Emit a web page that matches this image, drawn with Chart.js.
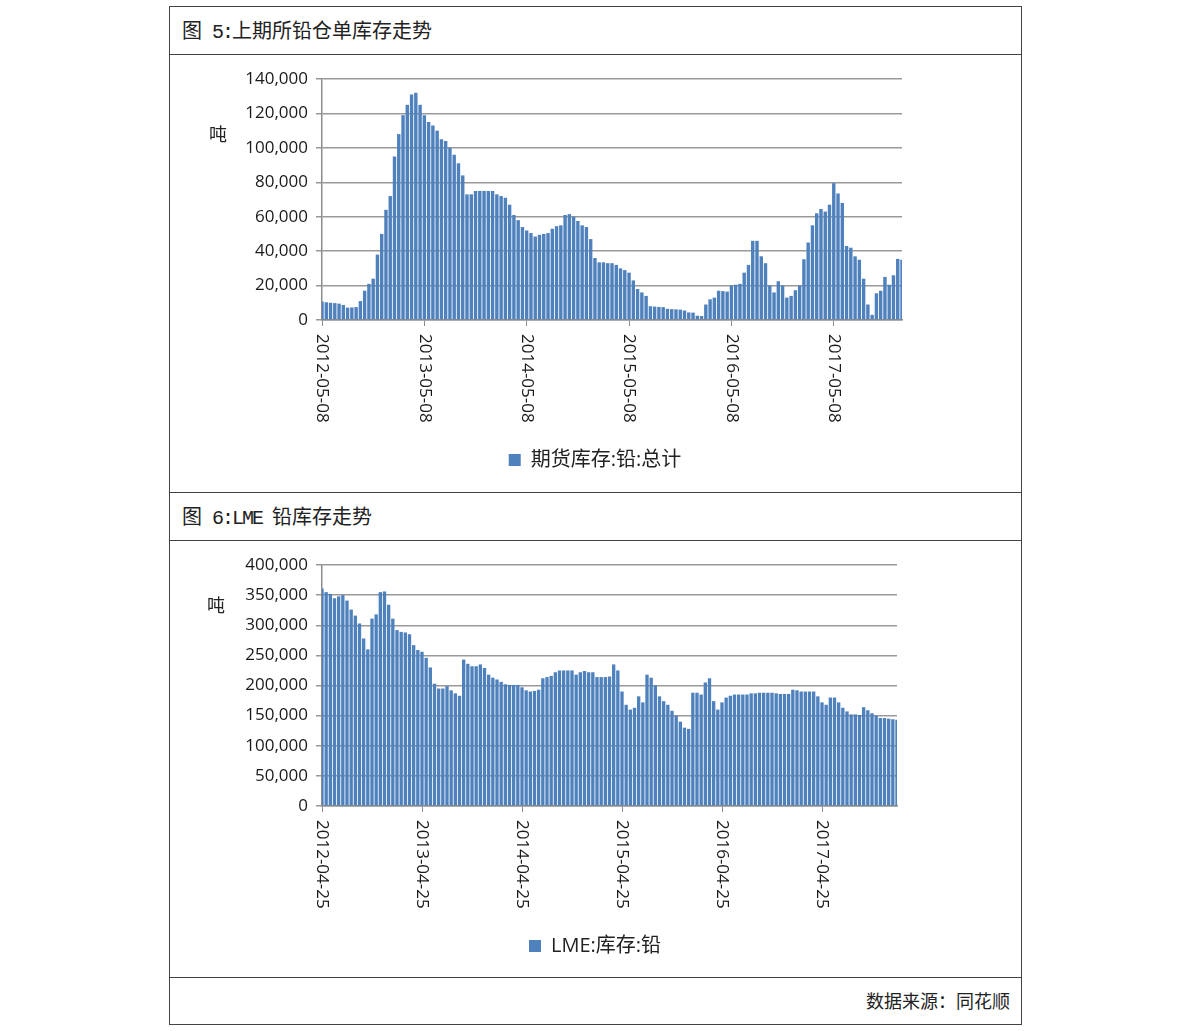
<!DOCTYPE html>
<html lang="zh-CN">
<head>
<meta charset="utf-8">
<title>上期所铅仓单库存走势 / LME 铅库存走势</title>
<script src="https://cdn.jsdelivr.net/npm/chart.js@4.4.1/dist/chart.umd.min.js"></script>
<style>
  html, body { margin: 0; padding: 0; background: #fff; }
  body {
    width: 1191px; height: 1031px; position: relative; overflow: hidden;
    font-family: "Noto Sans CJK SC", sans-serif; color: #222;
  }
  .frame {
    position: absolute; left: 169px; top: 6px; width: 853px; height: 1019px;
    border: 1px solid #444; box-sizing: border-box;
  }
  .rule { position: absolute; left: 169px; width: 853px; height: 1px; background: #444; }
  .title { position: absolute; left: 182px; font-size: 20px; line-height: 24px; white-space: nowrap; }
  .title .lat { font-family: "Liberation Mono", monospace; font-size: 20px; letter-spacing: -2px; white-space: pre; }
  .unit { position: absolute; font-size: 18px; line-height: 22px; color: #222; }
  .source { position: absolute; right: 181px; top: 989px; font-size: 18px; line-height: 22px; }
  .chart-box { position: absolute; left: 170px; width: 850px; }
</style>
</head>
<body>
<div class="frame"></div>
<div class="rule" style="top:54px"></div>
<div class="rule" style="top:492px"></div>
<div class="rule" style="top:540px"></div>
<div class="rule" style="top:977px"></div>

<div class="title" style="top:18px">图<span class="lat"> 5:</span>上期所铅仓单库存走势</div>
<div class="title" style="top:504px">图<span class="lat"> 6:LME </span>铅库存走势</div>

<div class="chart-box" style="top:55px;height:436px"><canvas id="shfeChart"></canvas></div>
<div class="chart-box" style="top:541px;height:435px"><canvas id="lmeChart"></canvas></div>

<div class="unit" style="left:209px;top:122px">吨</div>
<div class="unit" style="left:207px;top:593px">吨</div>

<div class="source">数据来源：同花顺</div>

<script>
/* ============ DATA ============ */
// half-monthly readings, 24 per year, starting at the first tick date
const PER_YEAR = 24;

const shfeDateTicks = ['2012-05-08', '2013-05-08', '2014-05-08', '2015-05-08', '2016-05-08', '2017-05-08'];
const shfeYTicks = [0, 20000, 40000, 60000, 80000, 100000, 120000, 140000];
const shfeStock = [
  10700, 10300, 10000, 9800, 9500, 8700, 7200, 7300, 7500, 11000,
  17000, 21000, 24000, 38000, 50000, 64000, 72000, 95000, 108000, 119000,
  125000, 131000, 132000, 125000, 119000, 115000, 113000, 110000, 105000, 104000,
  100000, 96000, 91000, 84000, 73000, 73000, 75000, 75000, 75000, 75000,
  75000, 73000, 72000, 71000, 67000, 61000, 58000, 54000, 52000, 50500,
  48500, 49500, 50000, 50500, 53000, 54500, 55000, 61000, 61500, 60000,
  57500, 55000, 54000, 47000, 36000, 33500, 33500, 33000, 33000, 32000,
  30000, 29000, 27500, 23000, 18000, 16000, 14000, 8000, 7800, 7600,
  7500, 6500, 6300, 6200, 6000, 5500, 4400, 4300, 2500, 2300,
  9000, 12000, 13000, 17000, 16800, 16500, 20000, 20500, 21000, 27500,
  32000, 46000, 46000, 37000, 33000, 20000, 16000, 22500, 20000, 13000,
  14000, 17300, 20000, 35300, 45000, 55000, 62000, 64500, 63000, 67000,
  79500, 73500, 68000, 43000, 42000, 37000, 35000, 24000, 9000, 3000,
  15500, 17000, 25000, 20500, 26000, 35500, 35000
];

const lmeDateTicks = ['2012-04-25', '2013-04-25', '2014-04-25', '2015-04-25', '2016-04-25', '2017-04-25'];
const lmeYTicks = [0, 50000, 100000, 150000, 200000, 250000, 300000, 350000, 400000];
const lmeStock = [
  361000, 355000, 352000, 345000, 348000, 350000, 341000, 326000, 316000, 303000,
  278000, 260000, 311000, 318000, 355000, 356000, 334000, 311000, 292000, 289000,
  288000, 285000, 267000, 259000, 256000, 246000, 230000, 203000, 195000, 195000,
  199000, 192000, 187000, 183000, 243000, 236000, 232000, 232000, 235000, 229000,
  218000, 213000, 210000, 206000, 202000, 201000, 201000, 201000, 197000, 192000,
  190000, 191000, 193000, 212000, 214000, 216000, 222000, 225000, 225000, 225000,
  225000, 218000, 222000, 224000, 222000, 222000, 214000, 214000, 214000, 215000,
  235000, 225000, 190000, 168000, 160000, 163000, 182000, 172000, 218000, 213000,
  200000, 182000, 174000, 168000, 158000, 150000, 140000, 130000, 128000, 188000,
  188000, 185000, 205000, 212000, 174000, 160000, 172000, 180000, 183000, 185000,
  185000, 185000, 185000, 187000, 187000, 188000, 188000, 188000, 188000, 187000,
  186000, 186000, 186000, 193000, 192000, 190000, 190000, 190000, 190000, 182000,
  172000, 168000, 180000, 180000, 172000, 163000, 157000, 152000, 152000, 151000,
  164000, 159000, 154000, 150000, 146000, 146000, 145000, 144000, 143000
];

/* ============ STYLE ============ */
const BAR_BLUE = '#4f81bd';
const GRID_GREY = '#999999';
const AXIS_GREY = '#8c8c8c';
const AXIS_FONT = '"Open Sans", "Noto Sans", sans-serif';
const LEGEND_FONT = '"Open Sans", "Noto Sans CJK SC", sans-serif';

// x labels are written top-down (clockwise), which Chart.js can't rotate to
const verticalDateLabels = {
  id: 'verticalDateLabels',
  afterDraw(chart) {
    const xs = chart.scales.x;
    const ctx = chart.ctx;
    ctx.save();
    ctx.fillStyle = '#1a1a1a';
    ctx.font = '17px ' + AXIS_FONT;
    ctx.textAlign = 'left';
    ctx.textBaseline = 'middle';
    xs.ticks.forEach((t) => {
      ctx.save();
      ctx.translate(xs.getPixelForValue(t.value), xs.top + 14);
      ctx.rotate(Math.PI / 2);
      ctx.fillText(chart.data.labels[t.value], 0, 0);
      ctx.restore();
    });
    ctx.restore();
  },
};

// legend sits centred on the whole canvas, not on the padded box
const centerLegend = {
  id: 'centerLegend',
  afterLayout(chart) {
    const lg = chart.legend;
    if (!lg) return;
    lg.left = 0;
    lg.right = chart.width;
    lg.width = chart.width;
  },
};

function buildLabels(values, dateTicks) {
  return values.map((_, i) => (i % PER_YEAR === 0 ? dateTicks[i / PER_YEAR] || '' : ''));
}

function makeChart(id, values, dateTicks, yTicks, legendText, rightPad, bottomPad) {
  const labels = buildLabels(values, dateTicks);
  return new Chart(document.getElementById(id), {
    type: 'bar',
    data: {
      labels,
      datasets: [{
        label: legendText,
        data: values,
        backgroundColor: BAR_BLUE,
        borderWidth: 0,
        barPercentage: 0.8,
        categoryPercentage: 1,
      }],
    },
    options: {
      responsive: true,
      maintainAspectRatio: false,
      animation: false,
      layout: { padding: { left: 0, right: rightPad, top: 24, bottom: bottomPad } },
      plugins: {
        legend: {
          position: 'bottom',
          labels: {
            boxWidth: 12,
            boxHeight: 12,
            padding: 10,
            color: '#222',
            font: { family: LEGEND_FONT, size: 20 },
          },
        },
        tooltip: { enabled: false },
      },
      scales: {
        x: {
          offset: false,
          grid: { display: true, offset: false, drawOnChartArea: false, drawTicks: true, tickLength: 6, color: AXIS_GREY },
          border: { display: true, color: AXIS_GREY, width: 1.5 },
          ticks: { display: false, autoSkip: false },
          afterBuildTicks: (axis) => { axis.ticks = axis.ticks.filter((t) => labels[t.value]); },
          afterFit: (scale) => { scale.height = 120; },
        },
        y: {
          min: 0,
          max: yTicks[yTicks.length - 1],
          afterBuildTicks: (axis) => { axis.ticks = yTicks.map((v) => ({ value: v })); },
          afterFit: (scale) => { scale.width = 152; },
          grid: { color: GRID_GREY, lineWidth: 1.5, drawTicks: true, tickLength: 6 },
          border: { display: true, color: AXIS_GREY, width: 1.5 },
          ticks: {
            padding: 8,
            color: '#1a1a1a',
            font: { family: AXIS_FONT, size: 17 },
            callback: (v) => Number(v).toLocaleString('en-US'),
          },
        },
      },
    },
    plugins: [verticalDateLabels, centerLegend],
  });
}

makeChart('shfeChart', shfeStock, shfeDateTicks, shfeYTicks, '期货库存:铅:总计', 118, 11);
makeChart('lmeChart', lmeStock, lmeDateTicks, lmeYTicks, 'LME:库存:铅', 123, 10);
</script>
</body>
</html>
